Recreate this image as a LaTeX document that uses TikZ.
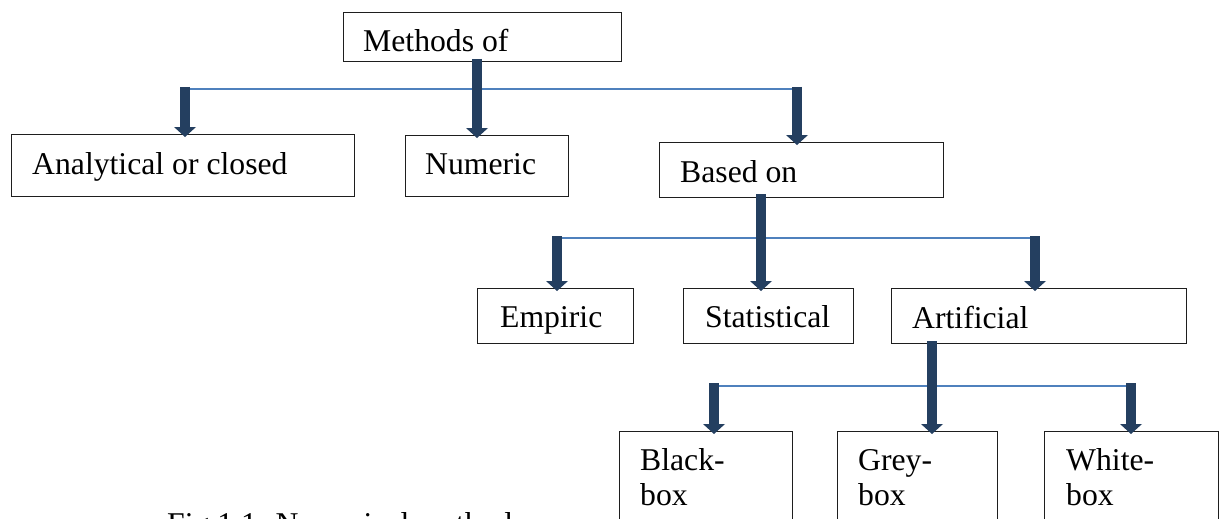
\documentclass[tikz,border=0pt]{standalone}
\usepackage{fontspec}
\setmainfont{Liberation Serif}
\usetikzlibrary{arrows.meta}
\definecolor{navy}{RGB}{36,63,96}
\definecolor{busblue}{RGB}{79,129,189}
\definecolor{edge}{RGB}{30,30,30}
\begin{document}
\begin{tikzpicture}[x=1pt,y=-1pt,
  box/.style={draw=edge, line width=1.3pt, anchor=north west, inner sep=0pt},
  lbl/.style={anchor=base west, inner sep=0pt, font=\fontsize{31.7pt}{35pt}\selectfont},
  bus/.style={draw=busblue, line width=2pt},
  feed/.style={draw=navy, line width=10pt,
    -{Triangle[width=22pt,length=10pt,line width=0pt]}, shorten >=-3pt}]
\useasboundingbox (0,0) rectangle (1219,519);
\fill[white] (0,0) rectangle (1219,519);
\clip (0,0) rectangle (1219,519);

% boxes
\node[box, minimum width=278pt, minimum height=49pt] (meth)  at (343,12)  {};
\node[box, minimum width=343pt, minimum height=62pt] (anal)  at (11,134)  {};
\node[box, minimum width=163pt, minimum height=61pt] (num)   at (405,135) {};
\node[box, minimum width=284pt, minimum height=55pt] (based) at (659,142) {};
\node[box, minimum width=156pt, minimum height=55pt] (emp)   at (477,288) {};
\node[box, minimum width=170pt, minimum height=55pt] (stat)  at (683,288) {};
\node[box, minimum width=295pt, minimum height=55pt] (art)   at (891,288) {};
\node[box, minimum width=173pt, minimum height=120pt] (black) at (619,431) {};
\node[box, minimum width=160pt, minimum height=120pt] (grey)  at (837,431) {};
\node[box, minimum width=174pt, minimum height=120pt] (white) at (1044,431) {};

% labels, set from the upper left corner of each box
\node[lbl] (tmeth)  at ([xshift=20pt,yshift=-39.5pt]meth.north west)  {Methods of};
\node[lbl] (tanal)  at ([xshift=21pt,yshift=-40pt]anal.north west)    {Analytical or closed};
\node[lbl] (tnum)   at ([xshift=20pt,yshift=-39.5pt]num.north west)   {Numeric};
\node[lbl] (tbased) at ([xshift=21pt,yshift=-40pt]based.north west)   {Based on};
\node[lbl] (temp)   at ([xshift=23pt,yshift=-39.5pt]emp.north west)   {Empiric};
\node[lbl] (tstat)  at ([xshift=22pt,yshift=-39.5pt]stat.north west)  {Statistical};
\node[lbl] (tart)   at ([xshift=21pt,yshift=-40pt]art.north west)     {Artificial};
\node[lbl] (tblack) at ([xshift=21pt,yshift=-39.5pt]black.north west) {\vtop{\hbox{Black-}\hbox{box}}};
\node[lbl] (tgrey)  at ([xshift=21pt,yshift=-39.5pt]grey.north west)  {\vtop{\hbox{Grey-}\hbox{box}}};
\node[lbl] (twhite) at ([xshift=22pt,yshift=-39.5pt]white.north west) {\vtop{\hbox{White-}\hbox{box}}};
\node[lbl] (caption) at (167,534) {Fig.1.1. Numerical methods};

% branch points
\coordinate (a1) at (185,87);
\coordinate (m1) at (477,59);
\coordinate (b1) at (797,87);
\coordinate (a2) at (557,236);
\coordinate (m2) at (761,194);
\coordinate (b2) at (1035,236);
\coordinate (a3) at (714,383);
\coordinate (m3) at (932,341);
\coordinate (b3) at (1131,383);

% horizontal buses
\draw[bus] (190,89) -- (797,89);
\draw[bus] (562,238) -- (1035,238);
\draw[bus] (719,386) -- (1131,386);

% feeding arrows
\draw[feed] (a1) -- (anal.north -| a1);
\draw[feed] (m1) -- (num.north -| m1);
\draw[feed] (b1) -- (based.north -| b1);
\draw[feed] (a2) -- (emp.north -| a2);
\draw[feed] (m2) -- (stat.north -| m2);
\draw[feed] (b2) -- (art.north -| b2);
\draw[feed] (a3) -- (black.north -| a3);
\draw[feed] (m3) -- (grey.north -| m3);
\draw[feed] (b3) -- (white.north -| b3);
\end{tikzpicture}
\end{document}
